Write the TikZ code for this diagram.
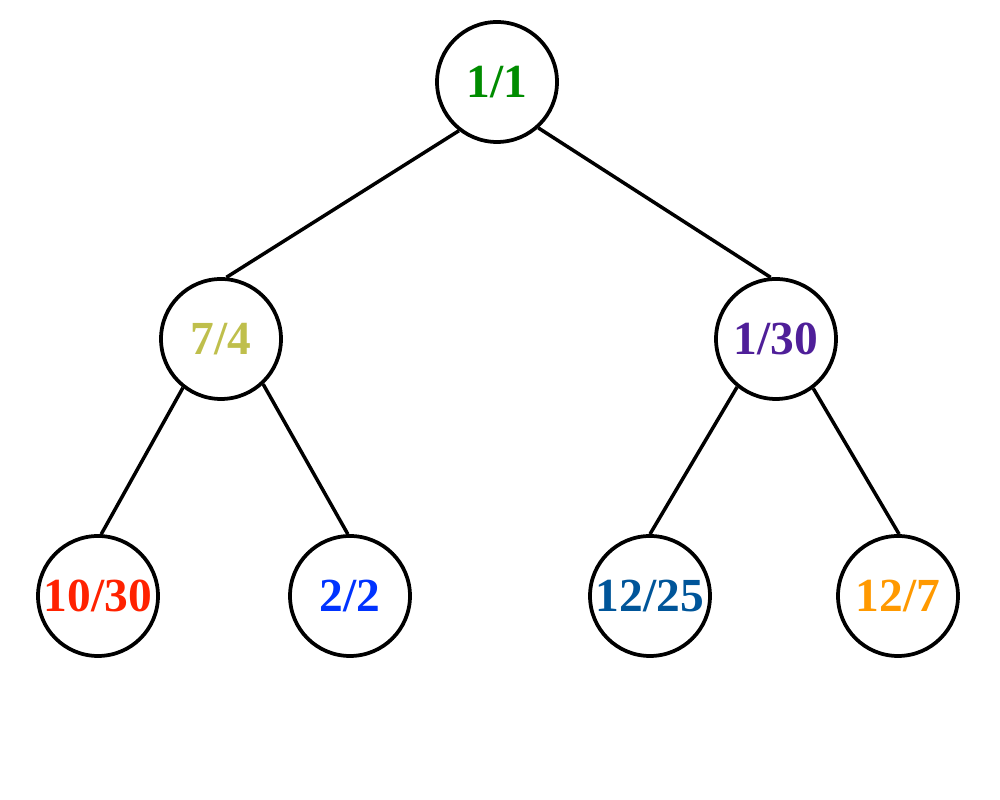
\documentclass[tikz,border=0pt]{standalone}
\usepackage{fontspec}
\setmainfont{Liberation Serif}
\usepackage{tikz}
\usetikzlibrary{shapes,positioning,calc}

\definecolor{rootgreen}{HTML}{008C00}
\definecolor{olivey}{HTML}{BFBF4C}
\definecolor{purplec}{HTML}{4F1F99}
\definecolor{redc}{HTML}{FF2200}
\definecolor{bluec}{HTML}{0033FF}
\definecolor{navyc}{HTML}{005599}
\definecolor{orangec}{HTML}{FF9900}

\begin{document}
\begin{tikzpicture}[
  treenode/.style={draw, circle, line width=0.075cm, minimum size=2.4cm, inner sep=0pt, font=\fontsize{27}{30}\selectfont\bfseries},
  edge/.style={line width=0.07cm}
]
\useasboundingbox (0,0) rectangle (20,16);

% 根
\node[treenode, text=rootgreen] (root) at (9.94,14.36) {1/1};

% 第二层
\node[treenode, text=olivey] (left) at (4.42,9.22) {7/4};
\node[treenode, text=purplec] (right) at (15.52,9.22) {1/30};

% 第三层
\node[treenode, text=redc] (ll) at (1.96,4.08) {10/30};
\node[treenode, text=bluec] (lr) at (7.00,4.08) {2/2};
\node[treenode, text=navyc] (rl) at (13.00,4.08) {12/25};
\node[treenode, text=orangec] (rr) at (17.96,4.08) {12/7};

% 连线
\draw[edge] (root.-128) -- (left.85);
\draw[edge] (root.-48) -- (right.95);
\draw[edge] (left.-128) -- (ll.87);
\draw[edge] (left.-47) -- (lr.92);
\draw[edge] (right.-129) -- (rl.90);
\draw[edge] (right.-53) -- (rr.89);
\end{tikzpicture}
\end{document}
